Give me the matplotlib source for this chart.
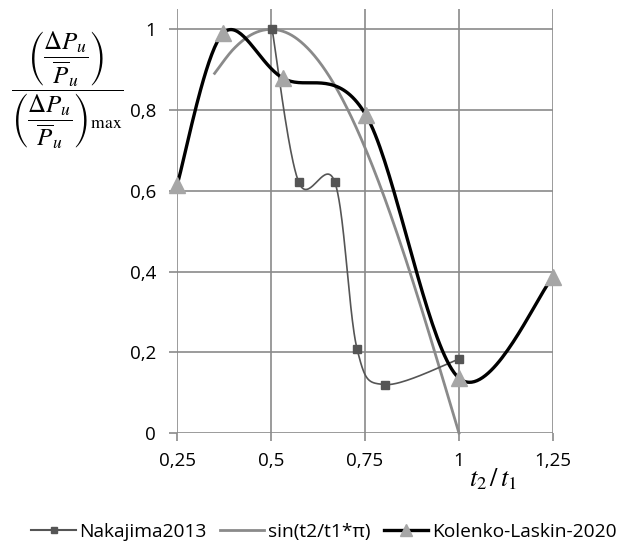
import numpy as np
import matplotlib
matplotlib.use("Agg")
import matplotlib.pyplot as plt
from matplotlib.lines import Line2D

plt.rcParams['font.family'] = ['Open Sans', 'DejaVu Sans']
plt.rcParams['mathtext.fontset'] = 'stix'

# данные
nak_x = [0.503, 0.574, 0.67, 0.729, 0.803, 1.0]
nak_y = [1.0, 0.621, 0.621, 0.208, 0.12, 0.183]

sin_x = [0.35, 0.4, 0.45, 0.5, 0.55, 0.6, 0.65, 0.7, 0.75, 0.8, 0.85, 0.9, 0.95, 1.0]
sin_y = [0.891, 0.951, 0.988, 1.0, 0.988, 0.951, 0.891, 0.809, 0.707, 0.588, 0.454, 0.309, 0.156, 0.0]

kl_x = [0.25, 0.372, 0.532, 0.753, 1.0, 1.25]
kl_y = [0.614, 0.99, 0.879, 0.787, 0.136, 0.386]

x_ticks = [0.25, 0.5, 0.75, 1.0, 1.25]
x_labels = ["0,25", "0,5", "0,75", "1", "1,25"]
y_ticks = [0, 0.2, 0.4, 0.6, 0.8, 1.0]
y_labels = ["0", "0,2", "0,4", "0,6", "0,8", "1"]


# сглаживание как в Excel (кривые Безье по Катмулл-Рому)
def smooth(xs, ys, n=40):
    p = np.column_stack([xs, ys]).astype(float)
    out = [p[0]]
    t = np.linspace(0, 1, n)[1:, None]
    for i in range(len(p) - 1):
        p0 = p[i - 1] if i > 0 else p[i]
        p1 = p[i]
        p2 = p[i + 1]
        p3 = p[i + 2] if i + 2 < len(p) else p[i + 1]
        c1 = p1 + (p2 - p0) / 6
        c2 = p2 - (p3 - p1) / 6
        seg = (1 - t) ** 3 * p1 + 3 * (1 - t) ** 2 * t * c1 + 3 * (1 - t) * t ** 2 * c2 + t ** 3 * p2
        out.extend(seg)
    out = np.array(out)
    return out[:, 0], out[:, 1]


fig = plt.figure(figsize=(6.29, 5.41), dpi=100)
ax = fig.add_axes([0.2814, 0.1996, 0.5977, 0.7834])

grid_c = "#8a8a8a"
for xt in x_ticks:
    ax.axvline(xt, color=grid_c, lw=1.2, zorder=0)
for yt in y_ticks:
    ax.axhline(yt, color=grid_c, lw=1.2, zorder=0)

sx, sy = smooth(nak_x, nak_y)
ax.plot(sx, sy, color="#555555", lw=1.2, zorder=3, clip_on=False)
ax.plot(nak_x, nak_y, ls="none", marker="s", ms=6, color="#555555", zorder=4, clip_on=False)

sx, sy = smooth(sin_x, sin_y)
ax.plot(sx, sy, color="#8a8a8a", lw=2.0, zorder=2, clip_on=False)

sx, sy = smooth(kl_x, kl_y)
ax.plot(sx, sy, color="black", lw=2.4, zorder=5, clip_on=False)
ax.plot(kl_x, kl_y, ls="none", marker="^", ms=11, color="#a6a6a6", zorder=6, clip_on=False)

ax.set_xlim(0.25, 1.25)
ax.set_ylim(0, 1.05)
for s in ax.spines.values():
    s.set_visible(False)
ax.set_xticks(x_ticks)
ax.set_xticklabels(x_labels)
ax.set_yticks(y_ticks)
ax.set_yticklabels(y_labels)
ax.tick_params(axis="both", length=6, width=1.2, color=grid_c, labelsize=13.5)
ax.tick_params(axis="y", pad=9)
ax.tick_params(axis="x", pad=8)

# подписи осей
ylab = (r"$\dfrac{\left(\dfrac{\Delta P_u}{\overline{P}_u}\right)}"
        r"{\left(\dfrac{\Delta P_u}{\overline{P}_u}\right)_{\mathrm{max}}}$")
fig.text(67 / 629, 1 - 90 / 541, ylab, ha="center", va="center", fontsize=18)
fig.text(493 / 629, 1 - 480 / 541, r"$t_2\,/\,t_1$", ha="center", va="center", fontsize=19)

handles = [
    Line2D([], [], color="#555555", lw=1.5, marker="s", ms=5),
    Line2D([], [], color="#8a8a8a", lw=2.0),
    Line2D([], [], color="black", lw=2.4, marker="^", ms=8, mfc="#a6a6a6", mec="#a6a6a6"),
]
fig.legend(handles, ["Nakajima2013", "sin(t2/t1*π)", "Kolenko-Laskin-2020"],
           loc="center", bbox_to_anchor=(324 / 629, 1 - 532 / 541), ncol=3, frameon=False,
           fontsize=13.8, handlelength=2.3, handletextpad=0.2, columnspacing=0.7)

fig.savefig("out.png", dpi=100)
